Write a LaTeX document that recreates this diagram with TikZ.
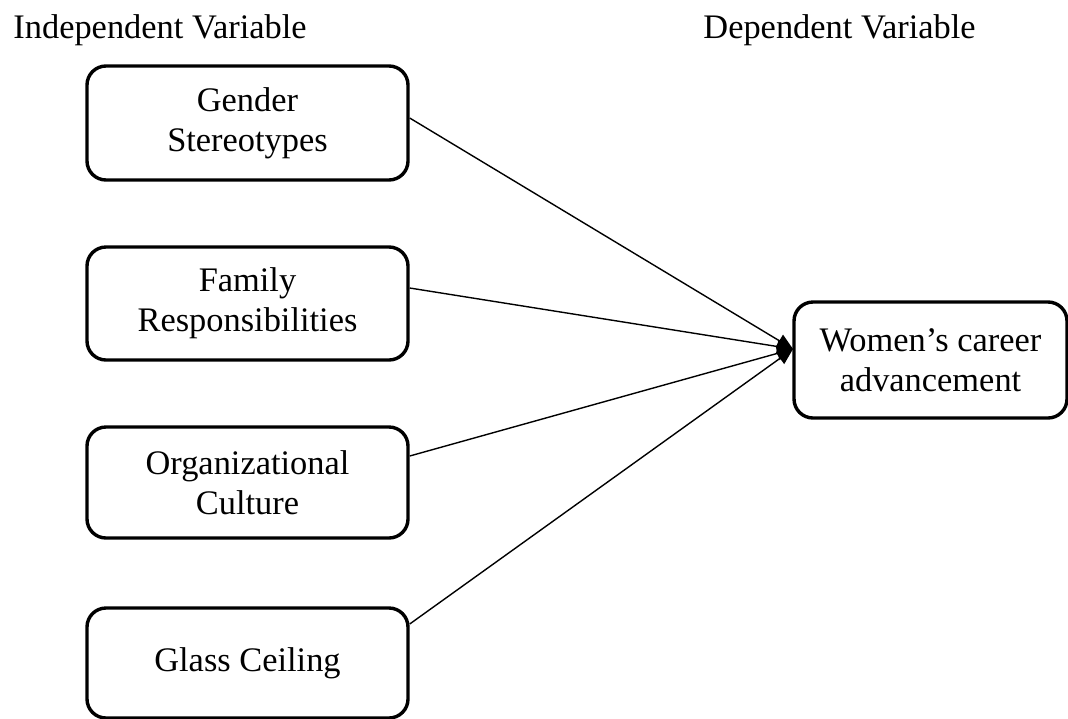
\documentclass[tikz,border=0pt]{standalone}
\usepackage{fontspec}
\setmainfont{Liberation Serif}
\usetikzlibrary{arrows.meta}

\begin{document}
\begin{tikzpicture}[x=0.5pt,y=-0.5pt,
    varbox/.style={draw=black,line width=1.7pt,rounded corners=9.5pt,align=center,
      minimum width=160.5pt,inner sep=0pt},
    link/.style={line width=0.7pt,-{Triangle[length=8pt,width=7pt]}},
    heading/.style={anchor=base west,inner sep=0pt}]
                    {\fontsize{17.2}{19.8}\selectfont

                    % Page frame 1068 x 718
                    \useasboundingbox (0,0) rectangle (1068,718);

                    % Headings
                    \node[heading] (indep) at (13,38) {Independent Variable};
                    \node[heading] (dep) at (703,38) {Dependent Variable};

                    % Independent variables
                    \node[varbox,minimum height=57pt] (gender) at (247.5,123) {Gender\\Stereotypes};
                    \node[varbox,minimum height=56.5pt] (fam) at (247.5,303.5) {Family\\Responsibilities};
                    \node[varbox,minimum height=55.5pt] (org) at (247.5,482.5) {Organizational\\Culture};
                    \node[varbox,minimum height=55pt] (glass) at (247.5,663) {Glass Ceiling};

                    % Dependent variable
                    \node[varbox,minimum width=136.5pt,minimum height=58pt] (women) at (930.5,360) {Women's career\\advancement};

                    % Meeting point of the arrows
                    \coordinate (tip) at (793,349);

                    % Drawing arrows
                    \draw[link] (gender.east |- 0,118) -- (tip);
                    \draw[link] (fam.east |- 0,288) -- (tip);
                    \draw[link] (org.east |- 0,456) -- (tip);
                    \draw[link] (glass.east |- 0,624) -- (tip);
                    }
\end{tikzpicture}
\end{document}
